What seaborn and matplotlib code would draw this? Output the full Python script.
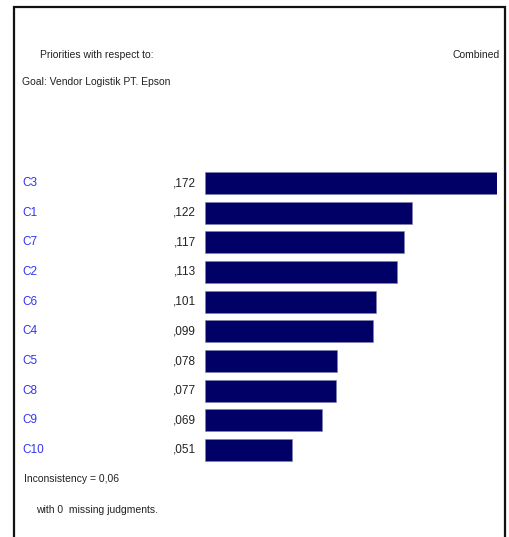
import matplotlib
matplotlib.use("Agg")
import matplotlib.pyplot as plt
import seaborn as sns
import pandas as pd
from matplotlib.patches import Rectangle
from matplotlib.transforms import blended_transform_factory

# data
criteria = ["C3", "C1", "C7", "C2", "C6", "C4", "C5", "C8", "C9", "C10"]
priorities = [0.172, 0.122, 0.117, 0.113, 0.101, 0.099, 0.078, 0.077, 0.069, 0.051]
value_labels = [",172", ",122", ",117", ",113", ",101", ",099", ",078", ",077", ",069", ",051"]

sns.set_style("white")
plt.rcParams['font.family'] = ['Liberation Sans', 'DejaVu Sans']

W, H = 510, 537
fig = plt.figure(figsize=(W / 100, H / 100), dpi=100)

def fx(px):
    return px / W

def fy(py):
    return 1 - py / H

# bar axes: x from 205px to 497px, rows centred from 183px to 450px
step = (450 - 183) / 9
top_px = 183 - step / 2
bot_px = 450 + step / 2
ax = fig.add_axes([fx(205), fy(bot_px), fx(497) - fx(205), (bot_px - top_px) / H])

df = pd.DataFrame({"crit": criteria, "prio": priorities})
sns.barplot(data=df, x="prio", y="crit", order=criteria, color="#000066",
            saturation=1, width=0.74, edgecolor="#8080b0", linewidth=0.4, ax=ax)
ax.set_xlim(0, max(priorities))
ax.set_ylim(len(criteria) - 0.5, -0.5)
ax.set_axis_off()

tr = blended_transform_factory(fig.transFigure, ax.transData)
for i, (c, v) in enumerate(zip(criteria, value_labels)):
    ax.text(fx(22), i, c, transform=tr, ha="left", va="center",
            fontsize=8.5, color="#3333ee")
    ax.text(fx(196), i, v, transform=tr, ha="right", va="center",
            fontsize=8.5, color="#222222")

txt = "#222222"
fs = 7.5
fig.text(fx(97), fy(55), "Priorities with respect to:", ha="center", va="center", fontsize=fs, color=txt)
fig.text(fx(22), fy(82), "Goal: Vendor Logistik PT. Epson", ha="left", va="center", fontsize=fs, color=txt)
fig.text(fx(500), fy(55), "Combined", ha="right", va="center", fontsize=fs, color=txt)
fig.text(fx(24), fy(479), "Inconsistency = 0,06", ha="left", va="center", fontsize=fs, color=txt)
fig.text(fx(36), fy(510), "with 0  missing judgments.", ha="left", va="center", fontsize=fs, color=txt)

# outer frame (open at the bottom, cropped)
fig.add_artist(Rectangle((fx(14), -0.05), fx(505) - fx(14), fy(7) + 0.05,
                         transform=fig.transFigure, fill=False,
                         edgecolor="#111111", linewidth=1.6))

fig.savefig("out.png", dpi=100)
